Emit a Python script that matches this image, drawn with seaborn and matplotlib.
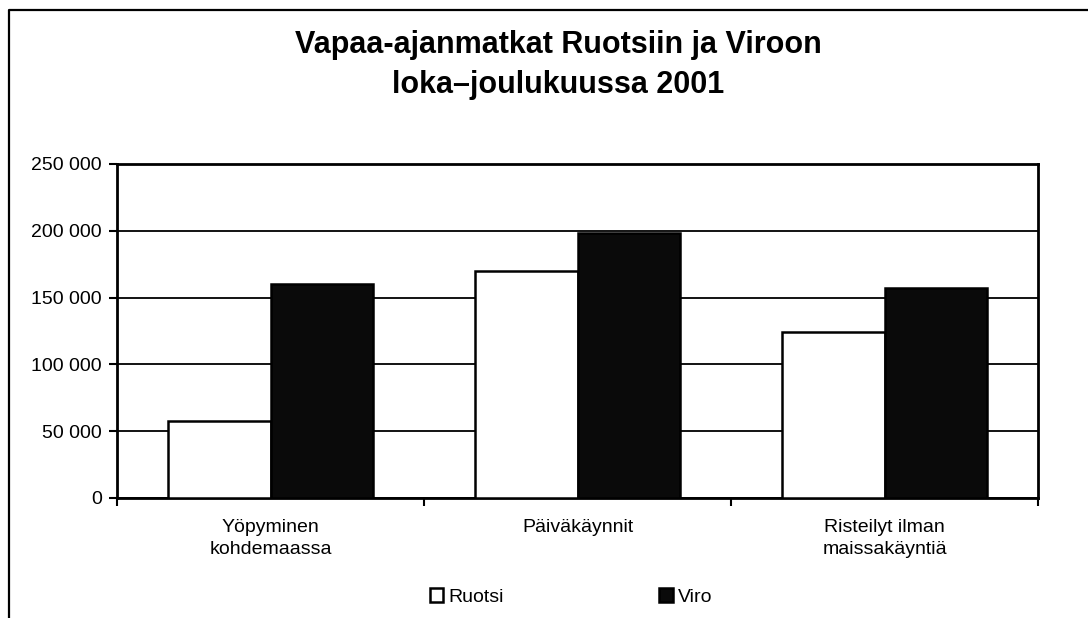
import matplotlib
matplotlib.use("Agg")
import matplotlib.pyplot as plt
import matplotlib.ticker as mticker
from matplotlib.patches import Patch
from matplotlib.lines import Line2D
import seaborn as sns
import pandas as pd

# ---- data ----
categories = ["Yöpyminen\nkohdemaassa", "Päiväkäynnit", "Risteilyt ilman\nmaissakäyntiä"]
series_names = ["Ruotsi", "Viro"]
ruotsi = [58000, 170000, 124000]
viro = [160000, 198500, 157000]
y_ticks = [0, 50000, 100000, 150000, 200000, 250000]
title_lines = ["Vapaa-ajanmatkat Ruotsiin ja Viroon", "loka\u2013joulukuussa 2001"]
colors = ["#ffffff", "#0a0a0a"]

df = pd.DataFrame({
    "Kategoria": categories * 2,
    "Sarja": [series_names[0]] * 3 + [series_names[1]] * 3,
    "Matkat": ruotsi + viro,
})

sns.set_style("white")
plt.rcParams["font.family"] = ["Liberation Sans", "DejaVu Sans"]
plt.rcParams["text.color"] = "black"
plt.rcParams["xtick.color"] = "black"
plt.rcParams["ytick.color"] = "black"
plt.rcParams["axes.labelcolor"] = "black"

W, H = 1088, 618
fig = plt.figure(figsize=(W / 100, H / 100), dpi=100)
ax = fig.add_axes([117 / W, 1 - 498 / H, (1038 - 117) / W, (498 - 164) / H])

sns.barplot(data=df, x="Kategoria", y="Matkat", hue="Sarja", order=categories,
            hue_order=series_names, palette=colors, edgecolor="black",
            linewidth=1.8, width=0.67, gap=0, saturation=1, ax=ax, legend=False,
            errorbar=None, zorder=3)

ax.set_ylim(0, 250000)
ax.set_xlim(-0.5, 2.5)
ax.set_yticks(y_ticks)
ax.yaxis.set_major_formatter(mticker.FuncFormatter(lambda v, p: f"{v:,.0f}".replace(",", " ")))
ax.yaxis.grid(True, color="black", linewidth=1.3, zorder=0)
ax.set_axisbelow(True)
ax.set_xlabel("")
ax.set_ylabel("")

for s in ax.spines.values():
    s.set_visible(True)
    s.set_color("black")
    s.set_linewidth(2.0)

ax.tick_params(axis="y", which="major", direction="out", length=6, width=1.5,
               color="black", labelcolor="black", labelsize=14, pad=5, left=True)
ax.tick_params(axis="x", which="major", length=0, labelsize=14, labelcolor="black", pad=15)
ax.set_xticks([-0.5, 0.5, 1.5, 2.5], minor=True)
ax.tick_params(axis="x", which="minor", direction="out", length=6, width=1.5,
               color="black", bottom=True)
for lbl in ax.get_xticklabels():
    lbl.set_linespacing(1.42)

# title
fig.text(558 / W, 1 - 45 / H, title_lines[0], ha="center", va="center",
         fontsize=22, fontweight="bold", color="black")
fig.text(558 / W, 1 - 85 / H, title_lines[1], ha="center", va="center",
         fontsize=22, fontweight="bold", color="black")

# legend
handles = [Patch(facecolor=c, edgecolor="black", linewidth=1.8) for c in colors]
leg = fig.legend(handles, series_names, loc="center", bbox_to_anchor=(571 / W, 1 - 597 / H),
                 ncol=2, frameon=False, fontsize=14, handlelength=0.7, handleheight=0.7,
                 handletextpad=0.25, columnspacing=8.0)
for t in leg.get_texts():
    t.set_color("black")

# outer chart frame (left and top visible)
fig.add_artist(Line2D([9 / W, 9 / W, 1.0], [0.0, 1 - 10 / H, 1 - 10 / H],
                      transform=fig.transFigure, color="black", linewidth=1.6))

fig.savefig("out.png", dpi=100, facecolor="white")
